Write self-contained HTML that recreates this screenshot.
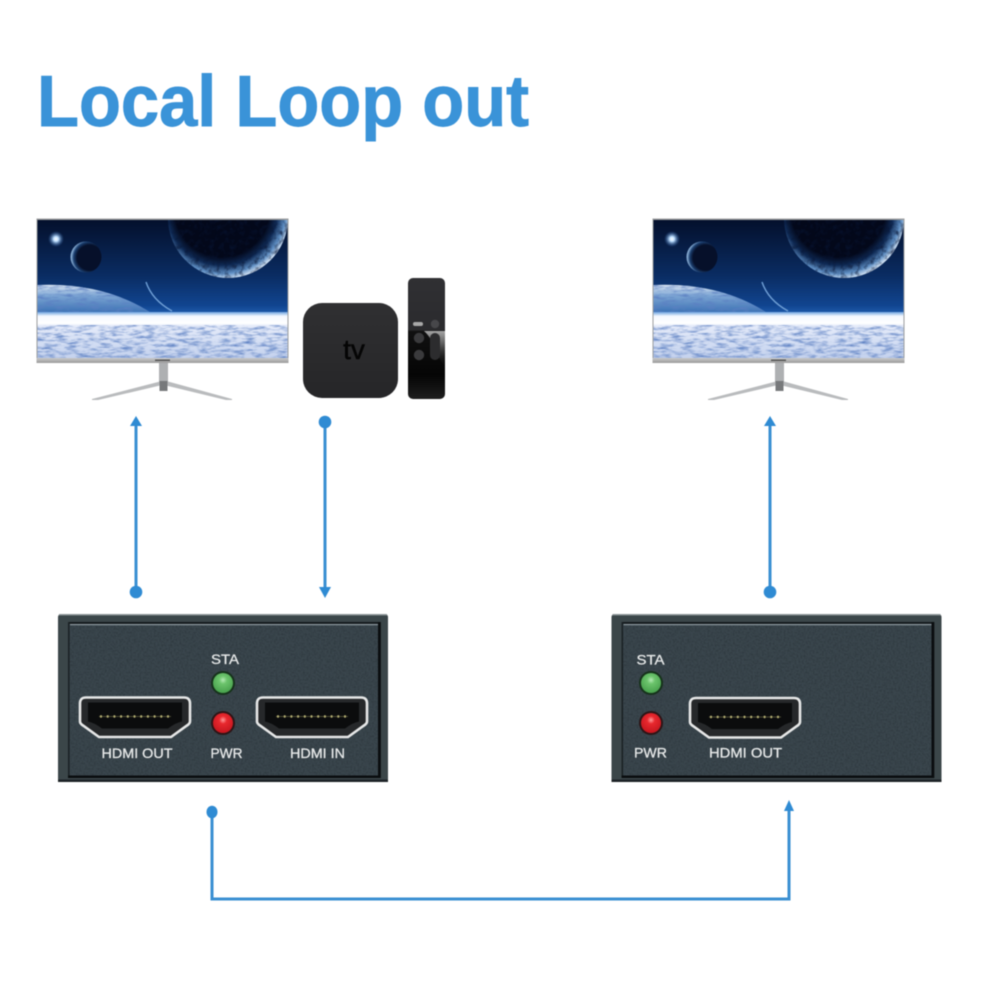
<!DOCTYPE html>
<html><head><meta charset="utf-8"><style>
html,body{margin:0;padding:0;background:#fff;width:1000px;height:1000px;overflow:hidden}
svg{display:block;filter:blur(.45px)}
text{font-family:"Liberation Sans",sans-serif}
</style></head><body>
<svg width="1000" height="1000" viewBox="0 0 1000 1000" xmlns="http://www.w3.org/2000/svg">
<defs>
<filter id="cl" x="0" y="0" width="1" height="1" color-interpolation-filters="sRGB"><feTurbulence type="fractalNoise" baseFrequency=".09 .36" numOctaves="3" seed="4"/><feColorMatrix values="0 0 0 0 .36  0 0 0 0 .5  0 0 0 0 .76  2 0 0 0 -.82"/><feComposite in2="SourceGraphic" operator="in" result="n"/><feMerge><feMergeNode in="SourceGraphic"/><feMergeNode in="n"/></feMerge></filter>
<filter id="sp" x="0" y="0" width="1" height="1" color-interpolation-filters="sRGB"><feTurbulence type="fractalNoise" baseFrequency=".2 .2" numOctaves="3" seed="9"/><feColorMatrix values="0 0 0 0 .03  0 0 0 0 .08  0 0 0 0 .2  1.6 0 0 0 -.7"/><feComposite in2="SourceGraphic" operator="in" result="n"/><feMerge><feMergeNode in="SourceGraphic"/><feMergeNode in="n"/></feMerge></filter>
<filter id="lea" x="0" y="0" width="1" height="1" color-interpolation-filters="sRGB"><feTurbulence type="fractalNoise" baseFrequency=".55" numOctaves="2" seed="3"/><feColorMatrix values="0 0 0 0 .12  0 0 0 0 .15  0 0 0 0 .17  .9 0 0 0 -.35"/><feComposite in2="SourceGraphic" operator="in" result="n"/><feMerge><feMergeNode in="SourceGraphic"/><feMergeNode in="n"/></feMerge></filter>
<linearGradient id="sky" x1="0" y1="0" x2="0" y2="1"><stop offset="0" stop-color="#04102c"/><stop offset=".4" stop-color="#0a2c62"/><stop offset=".62" stop-color="#114590"/><stop offset=".67" stop-color="#1c58a8"/></linearGradient>
<radialGradient id="pl" cx=".45" cy=".43" r=".58"><stop offset=".68" stop-color="#03081a"/><stop offset=".8" stop-color="#0f2a55"/><stop offset=".92" stop-color="#5f8fc4"/><stop offset="1" stop-color="#cfe0f2"/></radialGradient>
<radialGradient id="moon" cx=".62" cy=".52" r=".6"><stop offset=".68" stop-color="#06102a"/><stop offset=".86" stop-color="#1b3f70"/><stop offset="1" stop-color="#8fb4da"/></radialGradient>
<radialGradient id="star"><stop offset="0" stop-color="#fff"/><stop offset=".3" stop-color="#bfe0ff"/><stop offset="1" stop-color="#2a5fa8" stop-opacity="0"/></radialGradient>
<linearGradient id="lp" x1="0" y1="0" x2="0" y2="1"><stop offset="0" stop-color="#dbe6f4"/><stop offset=".35" stop-color="#7da6d4"/><stop offset="1" stop-color="#2d66ad"/></linearGradient>
<linearGradient id="ground" x1="0" y1="0" x2="0" y2="1"><stop offset="0" stop-color="#e6ecfa"/><stop offset="1" stop-color="#c4d2ee"/></linearGradient>
<linearGradient id="glow" x1="0" y1="0" x2="0" y2="1"><stop offset="0" stop-color="#6fa4e0"/><stop offset=".3" stop-color="#f4f8ff"/><stop offset=".8" stop-color="#fff"/><stop offset="1" stop-color="#e6ecfa"/></linearGradient>
<linearGradient id="bezel" x1="0" y1="0" x2="0" y2="1"><stop offset="0" stop-color="#c9c9c9"/><stop offset="1" stop-color="#9b9b9b"/></linearGradient>
<linearGradient id="rem" x1="0" y1="0" x2="0" y2="1"><stop offset="0" stop-color="#303033"/><stop offset=".43" stop-color="#2b2b2e"/><stop offset=".44" stop-color="#111"/><stop offset=".8" stop-color="#050505"/><stop offset="1" stop-color="#1e1e1e"/></linearGradient>
<linearGradient id="gloss" x1="0" y1="0" x2="0" y2="1"><stop offset="0" stop-color="#a5a5a5"/><stop offset=".35" stop-color="#5c5c5c"/><stop offset="1" stop-color="#111" stop-opacity="0"/></linearGradient>
<linearGradient id="atv" x1="0" y1="0" x2="0" y2="1"><stop offset="0" stop-color="#303032"/><stop offset="1" stop-color="#262628"/></linearGradient>
<radialGradient id="gl" cx=".5" cy=".35" r=".65"><stop offset="0" stop-color="#b5eab5"/><stop offset=".3" stop-color="#6cc46c"/><stop offset="1" stop-color="#47a04c"/></radialGradient>
<radialGradient id="rl" cx=".5" cy=".35" r=".65"><stop offset="0" stop-color="#ff9a9a"/><stop offset=".3" stop-color="#e8282e"/><stop offset="1" stop-color="#c4161e"/></radialGradient>
<clipPath id="scr"><rect x="37.500" y="220" width="250" height="138"/></clipPath>

<g id="monitor">
<rect x="36.500" y="218.500" width="252" height="144" fill="#9c9e9f"/>
<g clip-path="url(#scr)">
<rect x="37.500" y="220" width="250" height="138" fill="url(#sky)"/>
<circle cx="56" cy="239" r="8" fill="url(#star)"/>
<circle cx="86" cy="257" r="15.500" fill="url(#moon)"/>
<circle cx="228" cy="218" r="60" fill="url(#pl)" filter="url(#sp)"/>
<path d="M146 282 Q152 300 172 311" stroke="#6f9fd6" stroke-width="1.400" fill="none"/>
<path d="M37 285 Q105 282 153 314 L37 316Z" fill="url(#lp)" filter="url(#cl)"/>
<rect x="37.500" y="312" width="250" height="14" fill="url(#glow)"/>
<rect x="37.500" y="325" width="250" height="33" fill="url(#ground)" filter="url(#cl)"/>
</g>
<rect x="36.500" y="358" width="252" height="5" fill="url(#bezel)"/>
<rect x="155" y="359.500" width="15" height="1.500" fill="#555"/>
<rect x="159" y="363" width="9" height="20" fill="#aeb0b2"/>
<path d="M92 399 L160 381.500 L168 381.500 L232 399 L232 400 L226 400 L166 385.500 L160 385.500 L98 400 L92 400Z" fill="#b9bbbd"/>
<rect x="159.500" y="381" width="8" height="10" fill="#77797b"/>
</g>

<path id="port" d="M6 0 H104 Q110 0 110 6 V24 Q110 26 107 28 L91 39.500 H19 L3 28 Q0 26 0 24 V6 Q0 0 6 0Z"/>
<g id="hdmi">
<use href="#port" fill="#26282a" stroke="#e6e7e7" stroke-width="2.600"/>
<path d="M8 5 H102 V24 Q96 25 88 31 H22 Q14 25 8 24Z" fill="#0b0c0d"/>
<g fill="#d6d08a">
<circle cx="21" cy="19" r="1.200"/><circle cx="27.700" cy="19" r="1.200"/><circle cx="34.400" cy="19" r="1.200"/><circle cx="41.100" cy="19" r="1.200"/><circle cx="47.800" cy="19" r="1.200"/><circle cx="54.500" cy="19" r="1.200"/><circle cx="61.200" cy="19" r="1.200"/><circle cx="67.900" cy="19" r="1.200"/><circle cx="74.600" cy="19" r="1.200"/><circle cx="81.300" cy="19" r="1.200"/><circle cx="88" cy="19" r="1.200"/>
</g>
<rect x="19" y="18.500" width="72" height="1" fill="#77734a" opacity=".6"/>
</g>

<g id="box">
<rect x="0" y="0" width="330" height="168" rx="3" fill="#3b4649"/>
<rect x="0" y="165.500" width="330" height="2.500" fill="#1d2326"/>
<rect x="1" y="0" width="328" height="1.500" fill="#8a9294"/>
<rect x="11" y="9" width="310" height="154" fill="#3a464d" filter="url(#lea)"/>
<rect x="10" y="8" width="312" height="1.800" fill="#14191c"/>
<rect x="12" y="10" width="308" height="1.200" fill="#8d999f"/>
<rect x="10" y="8" width="1.600" height="155" fill="#1b2225"/>
<rect x="320" y="8" width="2.800" height="156" fill="#0a0d0f"/>
<rect x="10" y="161.500" width="312" height="2.500" fill="#0a0d0f"/>
</g>
<g id="gled"><circle r="12" fill="#16321b"/><circle r="10" fill="url(#gl)"/></g>
<g id="rled"><circle r="12" fill="#2d1517"/><circle r="10" fill="url(#rl)"/></g>
</defs>

<rect width="1000" height="1000" fill="#fff"/>
<text x="37" y="126" font-size="72" font-weight="700" fill="#3a93d8" stroke="#3a93d8" stroke-width=".9" textLength="492" lengthAdjust="spacingAndGlyphs">Local Loop out</text>

<use href="#monitor"/>
<use href="#monitor" x="616"/>

<rect x="303" y="303" width="95" height="95" rx="19" fill="url(#atv)"/>
<text x="354" y="359" font-size="28" fill="#050505" stroke="#050505" stroke-width=".5" text-anchor="middle">tv</text>

<rect x="408" y="278" width="37" height="121" rx="5" fill="url(#rem)"/>
<path d="M424 331 H445 V368 L436 352 Q432 338 424 331Z" fill="url(#gloss)"/>
<rect x="413" y="322" width="10" height="4" rx="2" fill="#a8a8a8"/>
<circle cx="435" cy="324" r="4.200" fill="#47474a"/>
<circle cx="419" cy="338" r="5.200" fill="#3a3a3c"/>
<circle cx="419" cy="355" r="5.200" fill="#3a3a3c"/>
<rect x="430" y="333" width="10" height="27" rx="5" fill="#2c2c2e"/>

<g stroke="#3a8fd2" stroke-width="3" fill="none">
<path d="M136 591 V425"/>
<path d="M325 422 V590"/>
<path d="M770 591 V425"/>
<path d="M212 812 V899 H789 V810"/>
</g>
<g fill="#2f8bd3">
<circle cx="136" cy="592" r="6.300"/>
<path d="M136 416 L142 426 H130Z"/>
<circle cx="325" cy="422" r="6.300"/>
<path d="M325 598 L319 587 H331Z"/>
<circle cx="770" cy="592" r="6.300"/>
<path d="M770 416 L776 426 H764Z"/>
<ellipse cx="212" cy="812" rx="5.500" ry="6.300"/>
<path d="M789 800 L794 811 H784Z"/>
</g>

<use href="#box" x="58" y="614"/>
<use href="#hdmi" x="80" y="697.500"/>
<use href="#hdmi" x="257" y="697.500"/>
<use href="#gled" x="223" y="683"/>
<use href="#rled" x="223" y="723"/>
<g font-size="14" fill="#e6e8e8" stroke="#e6e8e8" stroke-width=".3">
<text x="211" y="664" textLength="28" lengthAdjust="spacingAndGlyphs">STA</text>
<text x="101.500" y="758" textLength="71" lengthAdjust="spacingAndGlyphs">HDMI OUT</text>
<text x="210.500" y="758" textLength="32" lengthAdjust="spacingAndGlyphs">PWR</text>
<text x="290" y="758" textLength="55" lengthAdjust="spacingAndGlyphs">HDMI IN</text>
</g>

<use href="#box" x="611.500" y="614"/>
<use href="#hdmi" x="690" y="698"/>
<use href="#gled" x="651" y="683"/>
<use href="#rled" x="651" y="723"/>
<g font-size="14" fill="#e6e8e8" stroke="#e6e8e8" stroke-width=".3">
<text x="636.500" y="664.500" textLength="28" lengthAdjust="spacingAndGlyphs">STA</text>
<text x="709" y="757.500" textLength="73" lengthAdjust="spacingAndGlyphs">HDMI OUT</text>
<text x="634" y="757.500" textLength="33" lengthAdjust="spacingAndGlyphs">PWR</text>
</g>
</svg>
</body></html>
